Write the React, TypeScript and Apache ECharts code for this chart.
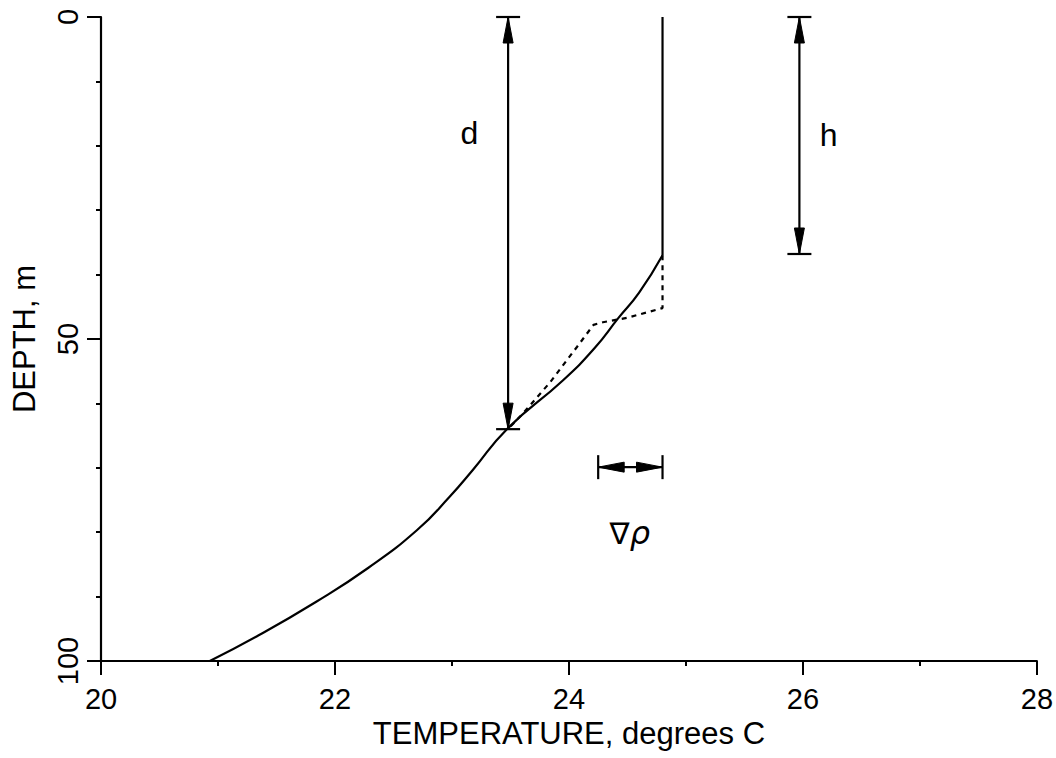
import React, { useEffect, useRef } from "react";
import * as echarts from "echarts";

// Temperature profile (solid): [temperature °C, depth m]
const profileTemp = [24.8, 24.8, 24.6, 24.42, 24.22, 23.95, 23.47, 23.18, 22.98, 22.7, 22.28, 21.84, 21.33, 20.93];
const profileDepth = [0, 37, 42.8, 46.8, 51.4, 56.4, 64, 70.3, 74.5, 79.7, 85.6, 90.8, 96.2, 100];

// Idealised mixed-layer profile (dotted)
const idealTemp = [24.8, 24.8, 24.5, 24.29, 24.21, 24.07, 23.84, 23.61, 23.5];
const idealDepth = [37, 45.2, 46.7, 47.4, 47.8, 51.2, 56.7, 61.5, 63.6];

// Dimension arrows: [x1, y1, x2, y2]
const arrowD = [23.48, 0, 23.48, 64];
const arrowH = [25.97, 0, 25.97, 36.8];
const arrowRho = [24.25, 69.9, 24.8, 69.9];

// Annotation labels
const labelNames = ["d", "h", "rho"];
const labelTemp = [23.15, 26.22, 24.52];
const labelDepth = [18, 18.3, 80.2];

const xTicks = { min: 20, max: 28, interval: 2 };
const yTicks = { min: 0, max: 100, interval: 50 };

const FONT = "'Liberation Sans', Arial, sans-serif";

export default function App() {
  const ref = useRef<HTMLDivElement>(null);

  useEffect(() => {
    if (!ref.current) return;
    const chart = echarts.init(ref.current, undefined, { renderer: "svg" });

    const profile = profileTemp.map((t, i) => [t, profileDepth[i]]);
    const mixedPart = profile.slice(0, 2);
    const curvedPart = profile.slice(1);
    const ideal = idealTemp.map((t, i) => [t, idealDepth[i]]);
    const labels = labelNames.map((n, i) => [labelTemp[i], labelDepth[i], n]);

    const arrowRender = (params: any, api: any) => {
      const p1 = api.coord([api.value(0), api.value(1)]);
      const p2 = api.coord([api.value(2), api.value(3)]);
      const dx = p2[0] - p1[0];
      const dy = p2[1] - p1[1];
      const len = Math.sqrt(dx * dx + dy * dy);
      const ux = dx / len;
      const uy = dy / len;
      const nx = -uy;
      const ny = ux;
      const L = 26;
      const W = 10;
      const B = 24;
      const style = { stroke: "#000", lineWidth: 2.2, fill: "none" };
      const head = (p: number[], s: number) => ({
        type: "polygon",
        shape: {
          points: [
            [p[0], p[1]],
            [p[0] + s * ux * L + nx * W / 2, p[1] + s * uy * L + ny * W / 2],
            [p[0] + s * ux * L - nx * W / 2, p[1] + s * uy * L - ny * W / 2],
          ],
        },
        style: { fill: "#000", stroke: "#000", lineWidth: 1 },
      });
      const bar = (p: number[]) => ({
        type: "line",
        shape: {
          x1: p[0] + nx * B / 2,
          y1: p[1] + ny * B / 2,
          x2: p[0] - nx * B / 2,
          y2: p[1] - ny * B / 2,
        },
        style,
      });
      return {
        type: "group",
        children: [
          { type: "line", shape: { x1: p1[0], y1: p1[1], x2: p2[0], y2: p2[1] }, style },
          head(p1, 1),
          head(p2, -1),
          bar(p1),
          bar(p2),
        ],
      };
    };

    const labelRender = (params: any, api: any) => {
      const p = api.coord([api.value(0), api.value(1)]);
      const name = labels[params.dataIndex][2];
      const text = name === "rho" ? "{a|∇}{b|ρ}" : String(name);
      return {
        type: "text",
        x: p[0],
        y: p[1],
        style: {
          text,
          fontSize: 32,
          fontFamily: FONT,
          fill: "#000",
          align: "center",
          verticalAlign: "middle",
          rich: {
            a: { fontSize: 30, fontFamily: "'DejaVu Sans', sans-serif", fill: "#000" },
            b: { fontSize: 32, fontFamily: "'DejaVu Sans', sans-serif", fontStyle: "italic", fill: "#000" },
          },
        },
      };
    };

    const axisCommon = {
      type: "value" as const,
      axisLine: { show: true, onZero: false, lineStyle: { color: "#000", width: 2.2 } },
      axisTick: { show: true, inside: false, length: 14, lineStyle: { color: "#000", width: 2 } },
      minorTick: { show: true, length: 5, lineStyle: { color: "#000", width: 2 } },
      splitLine: { show: false },
      minorSplitLine: { show: false },
      nameLocation: "middle" as const,
      nameTextStyle: { fontSize: 31, fontFamily: FONT, color: "#000" },
    };

    chart.setOption({
      animation: false,
      backgroundColor: "#fff",
      grid: { left: 101, right: 19, top: 17, bottom: 97, containLabel: false },
      xAxis: {
        ...axisCommon,
        position: "bottom",
        min: xTicks.min,
        max: xTicks.max,
        interval: xTicks.interval,
        minorTick: { ...axisCommon.minorTick, splitNumber: 2 },
        axisLabel: { fontSize: 29, fontFamily: FONT, color: "#000", margin: 23 },
        name: "TEMPERATURE, degrees C",
        nameGap: 37,
      },
      yAxis: {
        ...axisCommon,
        position: "left",
        inverse: true,
        min: yTicks.min,
        max: yTicks.max,
        interval: yTicks.interval,
        minorTick: { ...axisCommon.minorTick, splitNumber: 5 },
        axisLabel: { fontSize: 29, fontFamily: FONT, color: "#000", margin: 19, rotate: 90 },
        name: "DEPTH, m",
        nameGap: 61,
      },
      series: [
        {
          type: "line",
          data: mixedPart,
          symbol: "none",
          lineStyle: { color: "#000", width: 2.2 },
          z: 3,
        },
        {
          type: "line",
          data: curvedPart,
          smooth: 0.5,
          symbol: "none",
          lineStyle: { color: "#000", width: 2.2 },
          z: 3,
        },
        {
          type: "line",
          data: ideal,
          symbol: "none",
          lineStyle: { color: "#000", width: 2.2, type: [5, 5] },
          z: 2,
        },
        {
          type: "custom",
          renderItem: arrowRender,
          data: [arrowD, arrowH, arrowRho],
          encode: { x: [0, 2], y: [1, 3] },
          clip: false,
          z: 4,
        },
        {
          type: "custom",
          renderItem: labelRender,
          data: labels.map((l) => [l[0], l[1]]),
          encode: { x: 0, y: 1 },
          clip: false,
          z: 4,
        },
      ],
    });

    return () => chart.dispose();
  }, []);

  return (
    <div
      ref={ref}
      style={{ width: 1056, height: 758, position: "absolute", left: 0, top: 0 }}
    />
  );
}
